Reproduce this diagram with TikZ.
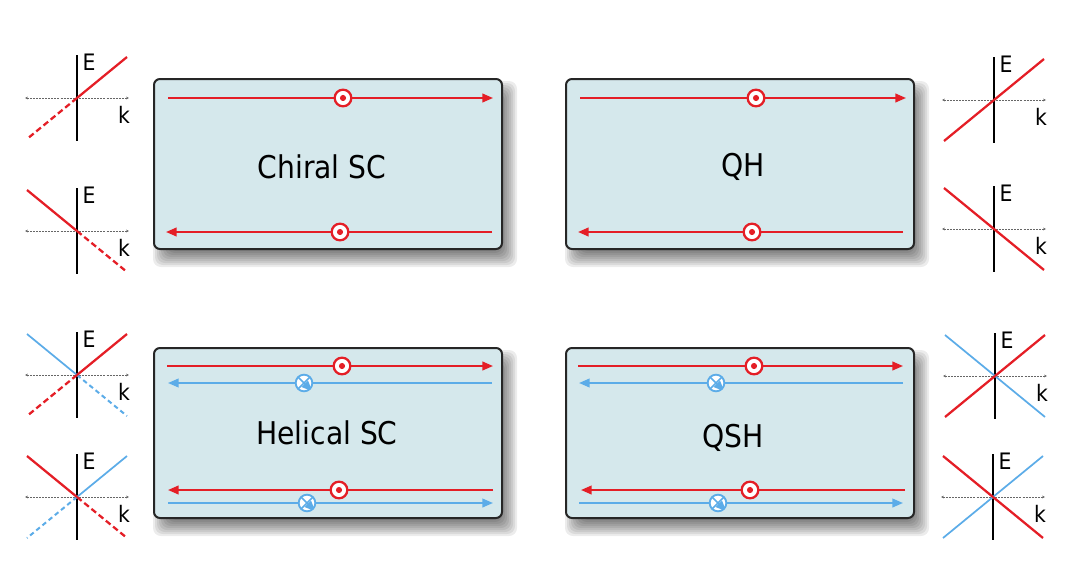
\documentclass[tikz,border=0pt]{standalone}
\usepackage{fontspec}
\setmainfont{DejaVu Sans Condensed}
\usetikzlibrary{arrows.meta}
\definecolor{edgered}{RGB}{228,30,38}
\definecolor{edgeblue}{RGB}{92,172,232}
\definecolor{boxfill}{RGB}{213,232,236}
\begin{document}
\begin{tikzpicture}[x=0.75pt,y=-0.75pt,
  sample/.style={draw=black!85,line width=1.5pt,fill=boxfill,rounded corners=4.5pt},
  phase/.style={font=\fontsize{23.5}{28}\selectfont},
  axlabel/.style={font=\fontsize{17}{20}\selectfont,inner sep=0pt},
  redflow/.style={draw=edgered,line width=1.5pt,-{Triangle[length=8pt,width=6.5pt]}},
  blueflow/.style={draw=edgeblue,line width=1.4pt,-{Triangle[length=8pt,width=6.5pt]}},
  dotmark/.style={circle,draw=edgered,fill=white,line width=1.7pt,minimum size=12.5pt,inner sep=0pt,
    path picture={\fill[edgered] (path picture bounding box.center) circle (2.3pt);}},
  crossmark/.style={circle,draw=edgeblue,fill=white,line width=1.4pt,minimum size=12.5pt,inner sep=0pt,
    path picture={\draw[edgeblue,line width=1.2pt] (path picture bounding box.south west)--(path picture bounding box.north east) (path picture bounding box.north west)--(path picture bounding box.south east);}},
  kaxis/.style={draw=black!60,line width=.6pt,dash pattern=on 1.5pt off .8pt,{Stealth[length=2.2pt,width=2pt]}-{Stealth[length=2.2pt,width=2pt]}},
  eaxis/.style={draw=black,line width=1.3pt},
  redline/.style={draw=edgered,line width=1.7pt},
  reddash/.style={draw=edgered,line width=1.7pt,dash pattern=on 4.5pt off 2.5pt},
  blueline/.style={draw=edgeblue,line width=1.3pt},
  bluedash/.style={draw=edgeblue,line width=1.5pt,dash pattern=on 3.5pt off 2.5pt}]
\useasboundingbox (0,0) rectangle (1080,571);
\foreach\bx/\by in {154/79,566/79,154/348,566/348}{
    \foreach\i in {0,...,8}{
        \fill[black,opacity=.075,rounded corners=6pt] (\bx+7-8+2*\i,\by+10-8+2*\i) rectangle (\bx+348+7+8-2*\i,\by+170+10+8-2*\i);
    }
    \draw[sample] (\bx,\by) rectangle +(348,170);
}
\node[phase] (chiral) at (322,167) {Chiral SC};
\node[phase] (qh) at (743,167) {QH};
\node[phase] (helical) at (327,433) {Helical SC};
\node[phase] (qsh) at (733,438) {QSH};
\foreach\xa/\xm/\xb/\y/\st/\mk [count=\n] in {168/343/493/98/redflow/dotmark,492/340/166/232/redflow/dotmark,
    580/756/906/98/redflow/dotmark,903/752/578/232/redflow/dotmark,
    167/342/493/366/redflow/dotmark,492/304/168/383/blueflow/crossmark,493/339/168/490/redflow/dotmark,168/307/493/503/blueflow/crossmark,
    578/754/903/366/redflow/dotmark,903/716/579/383/blueflow/crossmark,905/750/581/490/redflow/dotmark,579/718/903/503/blueflow/crossmark}{
    \draw[\st] (\xa,\y)--(\xm,\y) node[\mk] (spin\n) {}--(\xb,\y);
}
\foreach\ox/\oy [count=\n] in {77/98,77/231,77/375,77/497,994/100,994/229,995/376,993/497}{
    \draw[kaxis] (\ox-52,\oy)--(\ox+52,\oy);
    \draw[eaxis] (\ox,\oy-43)--(\ox,\oy+43);
    \node[axlabel] (E\n) at (\ox+12,\oy-36) {E};
    \node[axlabel] (k\n) at (\ox+47,\oy+17) {k};
}
\foreach\ox/\oy/\dx/\dy/\st in {77/98/1/-1/redline,77/98/-1/1/reddash,77/231/-1/-1/redline,77/231/1/1/reddash,
    77/375/-1/-1/blueline,77/375/1/1/bluedash,77/375/1/-1/redline,77/375/-1/1/reddash,
    77/497/1/-1/blueline,77/497/-1/1/bluedash,77/497/-1/-1/redline,77/497/1/1/reddash,
    994/100/1/-1/redline,994/100/-1/1/redline,994/229/-1/-1/redline,994/229/1/1/redline,
    995/376/-1/-1/blueline,995/376/1/1/blueline,995/376/1/-1/redline,995/376/-1/1/redline,
    993/497/1/-1/blueline,993/497/-1/1/blueline,993/497/-1/-1/redline,993/497/1/1/redline}{
    \draw[\st] (\ox,\oy)--++(50*\dx,41*\dy);
}
\end{tikzpicture}
\end{document}
